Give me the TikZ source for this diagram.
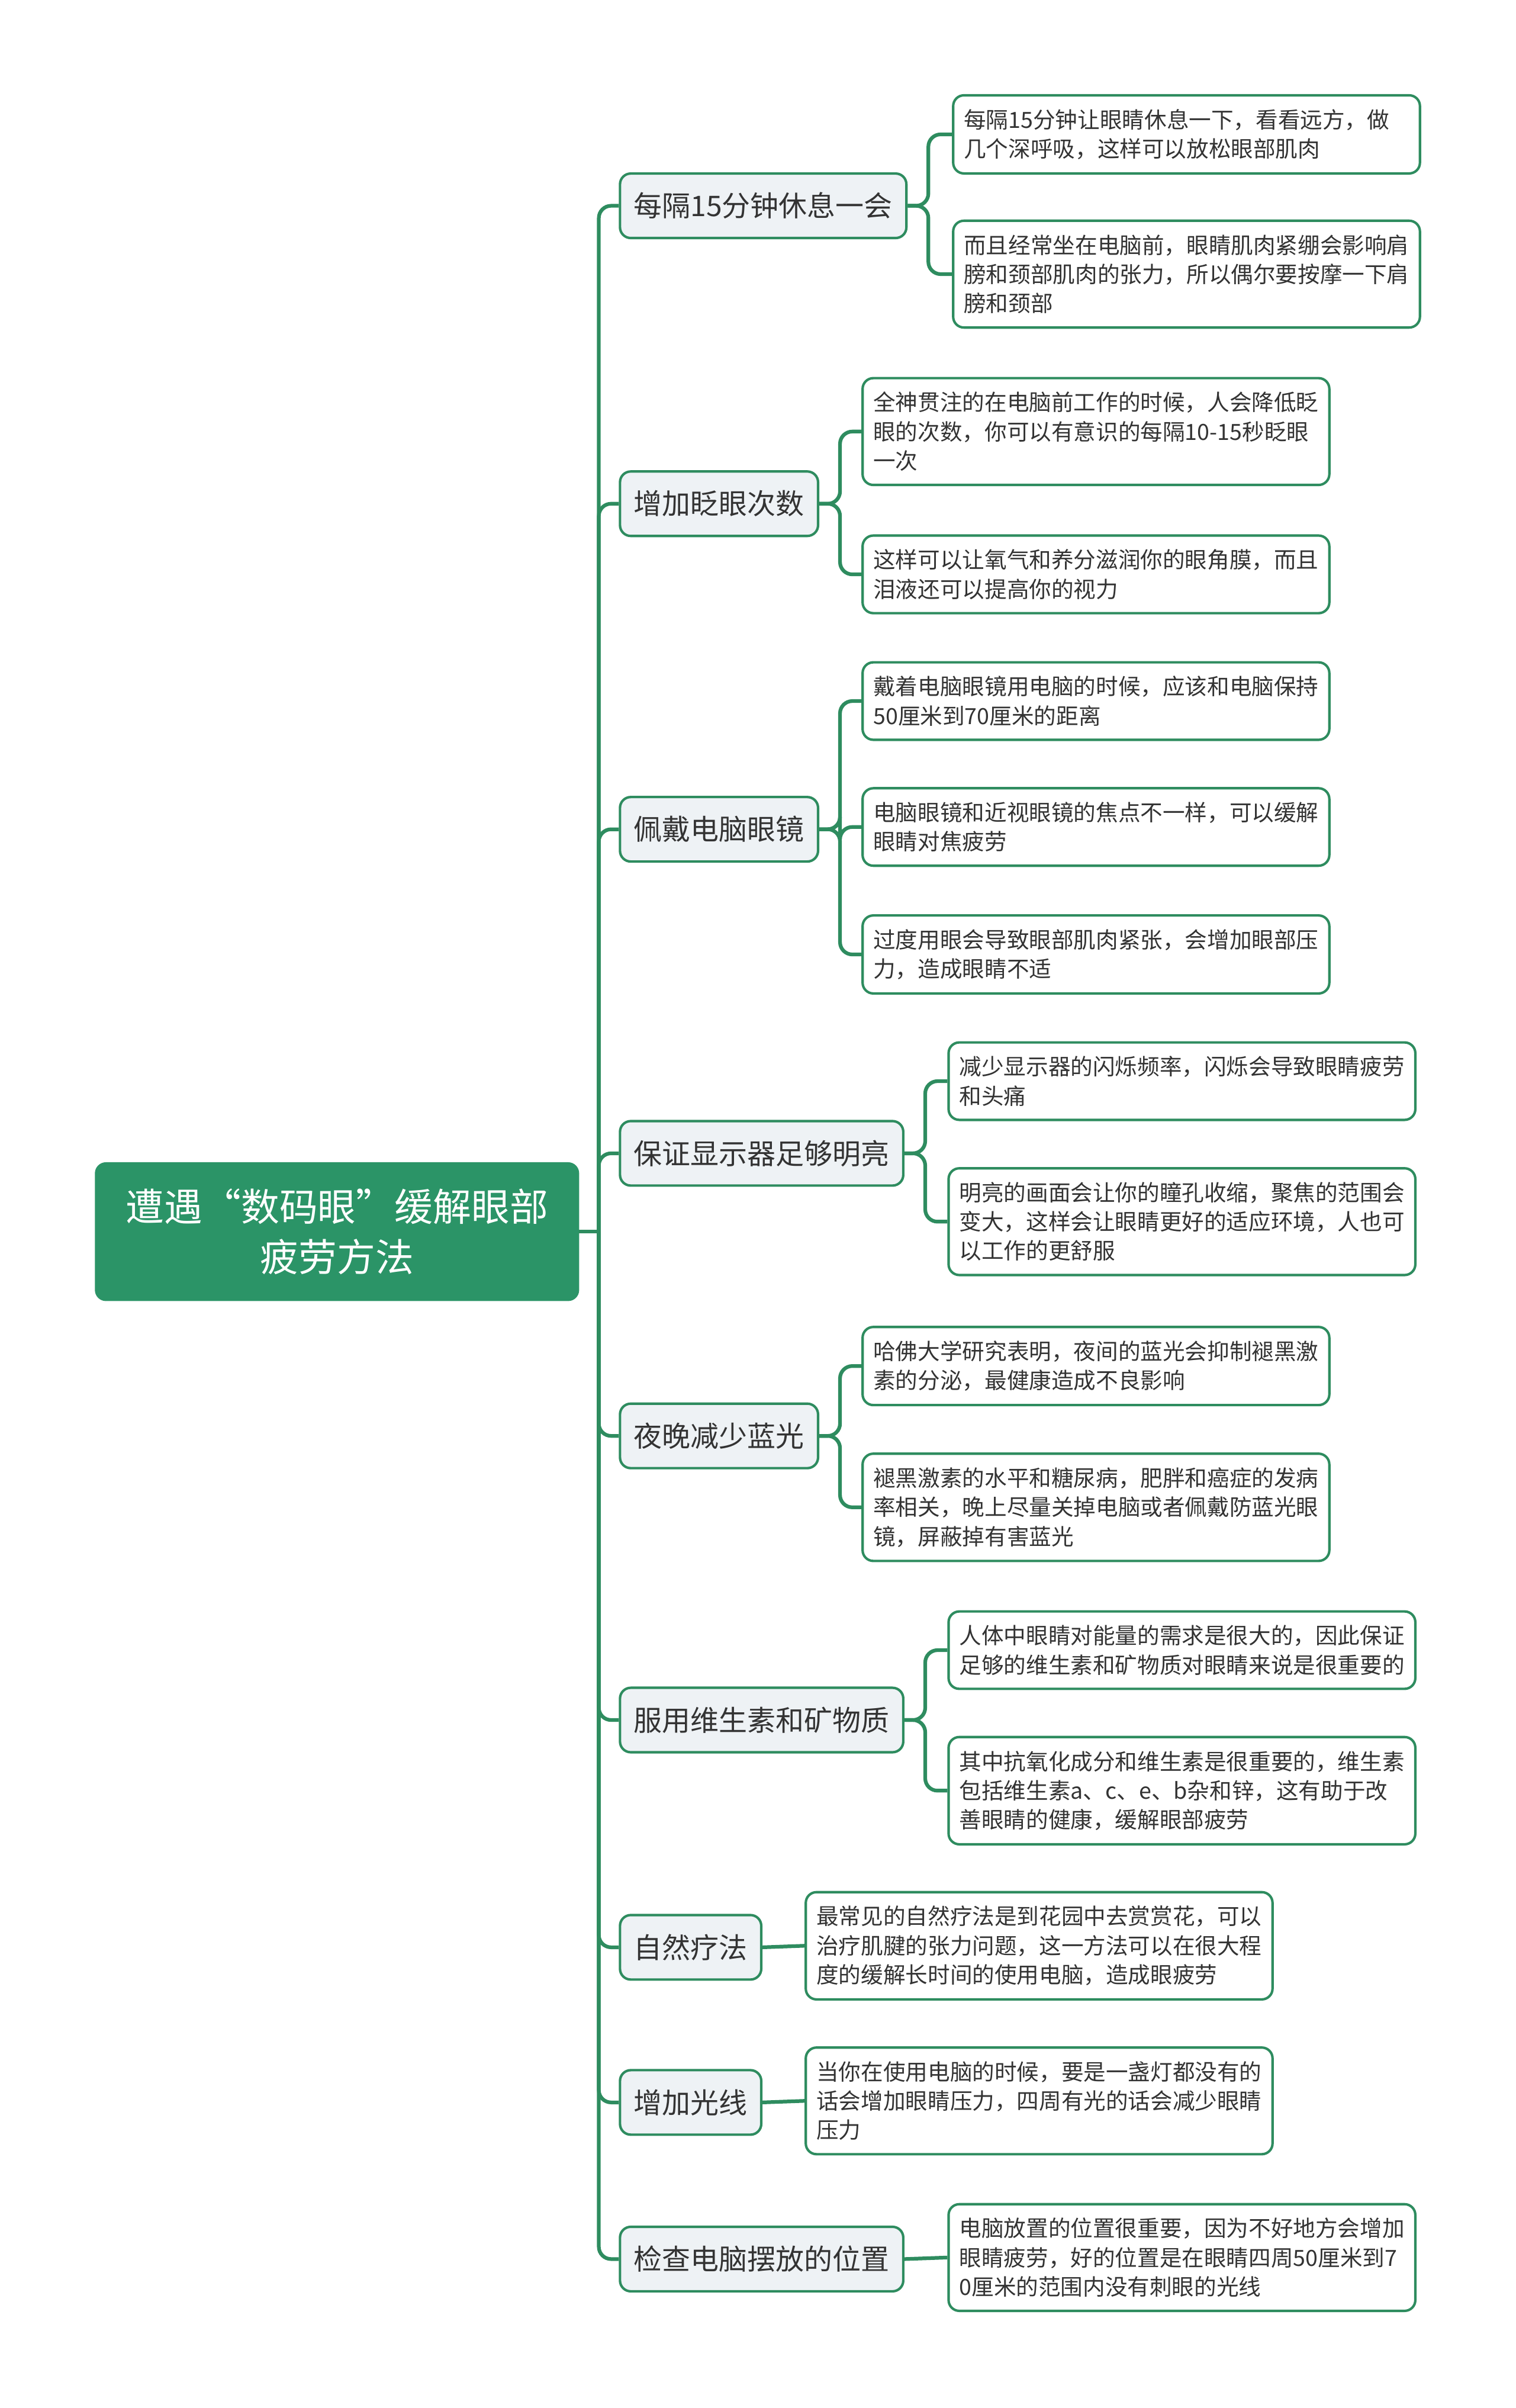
\documentclass[tikz,border=0pt]{standalone}
\usepackage{fontspec}
\setmainfont{Noto Sans CJK SC}
\usepackage{xcolor}
\usepackage{tikz}
\usetikzlibrary{positioning}
\definecolor{MapGreen}{HTML}{2B9467}
\definecolor{MapLine}{HTML}{2E8C5F}
\definecolor{TopicFill}{HTML}{EEF2F5}
\definecolor{MapText}{HTML}{333333}
\tikzset{
  rootnode/.style={draw=MapGreen, fill=MapGreen, rectangle, rounded corners=7pt,
                   minimum width=315pt, minimum height=90pt, text width=300pt,
                   align=center, text=white, font=\fontsize{25}{33}\selectfont},
  topicnode/.style={draw=MapLine, fill=TopicFill, rectangle, rounded corners=7pt,
                    line width=1.6pt, minimum height=42pt, inner xsep=9pt,
                    anchor=west, text=MapText, font=\fontsize{18.5}{22}\selectfont},
  notenode/.style={draw=MapLine, fill=white, rectangle, rounded corners=7pt,
                   line width=1.6pt, text width=290pt, inner xsep=7pt, inner ysep=9pt,
                   align=left, anchor=west, text=MapText,
                   font=\fontsize{14.5}{19}\selectfont},
  linkstd/.style={draw=MapLine, line width=2.4pt, rounded corners=8pt}
}

\begin{document}
\begin{tikzpicture}[x=1pt, y=-1pt]
  \useasboundingbox (0,0) rectangle (987,1568);

  \node[rootnode] (root) at (219.5,802) {遭遇“数码眼”缓解眼部\\疲劳方法};

  \node[topicnode] (rest)    at (403,134)  {每隔15分钟休息一会};
  \node[topicnode] (blink)   at (403,328)  {增加眨眼次数};
  \node[topicnode] (glasses) at (403,540)  {佩戴电脑眼镜};
  \node[topicnode] (bright)  at (403,751)  {保证显示器足够明亮};
  \node[topicnode] (blue)    at (403,935)  {夜晚减少蓝光};
  \node[topicnode] (vitamin) at (403,1120) {服用维生素和矿物质};
  \node[topicnode] (nature)  at (403,1268) {自然疗法};
  \node[topicnode] (light)   at (403,1369) {增加光线};
  \node[topicnode] (place)   at (403,1471) {检查电脑摆放的位置};

  \node[notenode] (rest1) at (620,87.5)  {每隔15分钟让眼睛休息一下，看看远方，做\\几个深呼吸，这样可以放松眼部肌肉};
  \node[notenode] (rest2) at (620,178.5) {而且经常坐在电脑前，眼睛肌肉紧绷会影响肩\\膀和颈部肌肉的张力，所以偶尔要按摩一下肩\\膀和颈部};
  \node[notenode] (blink1) at (561,281) {全神贯注的在电脑前工作的时候，人会降低眨\\眼的次数，你可以有意识的每隔10-15秒眨眼\\一次};
  \node[notenode] (blink2) at (561,374) {这样可以让氧气和养分滋润你的眼角膜，而且\\泪液还可以提高你的视力};
  \node[notenode] (glasses1) at (561,456.5) {戴着电脑眼镜用电脑的时候，应该和电脑保持\\50厘米到70厘米的距离};
  \node[notenode] (glasses2) at (561,538.5) {电脑眼镜和近视眼镜的焦点不一样，可以缓解\\眼睛对焦疲劳};
  \node[notenode] (glasses3) at (561,621.5) {过度用眼会导致眼部肌肉紧张，会增加眼部压\\力，造成眼睛不适};
  \node[notenode] (bright1) at (617,704)   {减少显示器的闪烁频率，闪烁会导致眼睛疲劳\\和头痛};
  \node[notenode] (bright2) at (617,795.5) {明亮的画面会让你的瞳孔收缩，聚焦的范围会\\变大，这样会让眼睛更好的适应环境，人也可\\以工作的更舒服};
  \node[notenode] (blue1) at (561,889.5) {哈佛大学研究表明，夜间的蓝光会抑制褪黑激\\素的分泌，最健康造成不良影响};
  \node[notenode] (blue2) at (561,981.5) {褪黑激素的水平和糖尿病，肥胖和癌症的发病\\率相关，晚上尽量关掉电脑或者佩戴防蓝光眼\\镜，屏蔽掉有害蓝光};
  \node[notenode] (vitamin1) at (617,1074.5) {人体中眼睛对能量的需求是很大的，因此保证\\足够的维生素和矿物质对眼睛来说是很重要的};
  \node[notenode] (vitamin2) at (617,1166)   {其中抗氧化成分和维生素是很重要的，维生素\\包括维生素a、c、e、b杂和锌，这有助于改\\善眼睛的健康，缓解眼部疲劳};
  \node[notenode] (nature1) at (524,1267) {最常见的自然疗法是到花园中去赏赏花，可以\\治疗肌腱的张力问题，这一方法可以在很大程\\度的缓解长时间的使用电脑，造成眼疲劳};
  \node[notenode] (light1)  at (524,1368) {当你在使用电脑的时候，要是一盏灯都没有的\\话会增加眼睛压力，四周有光的话会减少眼睛\\压力};
  \node[notenode] (place1)  at (617,1470) {电脑放置的位置很重要，因为不好地方会增加\\眼睛疲劳，好的位置是在眼睛四周50厘米到7\\0厘米的范围内没有刺眼的光线};

  \coordinate (trunk) at (390,802);
  \draw[linkstd] (root.east) -- (trunk);
  \foreach \t in {rest, blink, glasses, bright, blue, vitamin, nature, light, place}
    \draw[linkstd] (trunk) |- (\t.west);

  \foreach \t/\n in {rest/rest1, rest/rest2, blink/blink1, blink/blink2,
                     glasses/glasses1, glasses/glasses2, glasses/glasses3,
                     bright/bright1, bright/bright2, blue/blue1, blue/blue2,
                     vitamin/vitamin1, vitamin/vitamin2}
    \draw[linkstd] (\t.east) -- ++(13.5,0) |- (\n.west);
  \draw[linkstd] (nature.east) -- (nature1.west);
  \draw[linkstd] (light.east) -- (light1.west);
  \draw[linkstd] (place.east) -- (place1.west);
\end{tikzpicture}
\end{document}
